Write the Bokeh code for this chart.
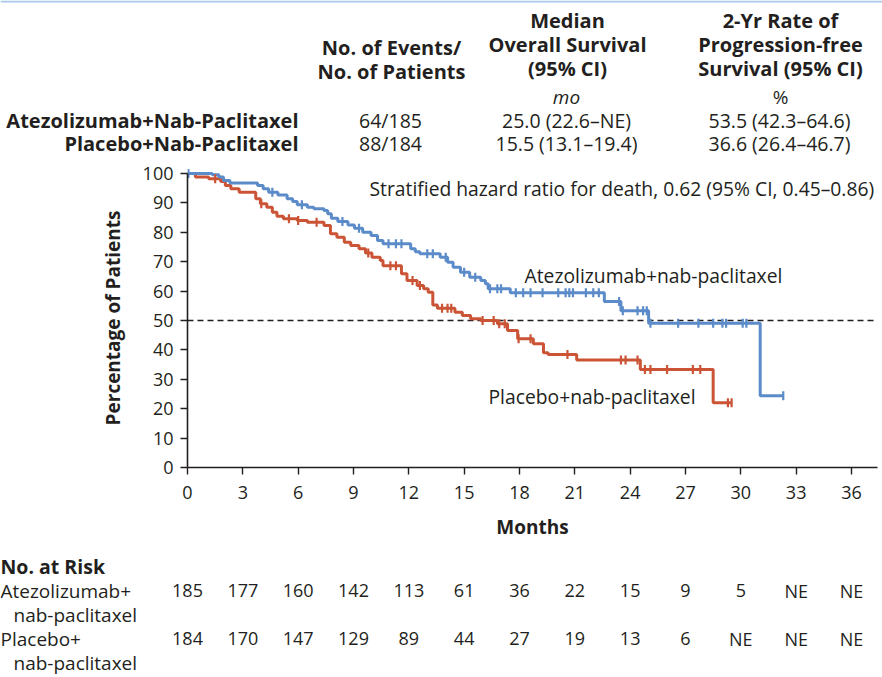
import numpy as np
from bokeh.plotting import figure
from bokeh.models import Range1d, FixedTicker
from bokeh.core.properties import value
from bokeh.embed import file_html
from bokeh.resources import INLINE

# ---------------- data ----------------
atezo_t = [0, 1.34, 1.7, 1.95, 2.3, 3.8, 4.1, 4.4, 4.9, 5.4, 5.7, 5.95, 6.5, 6.85, 7.4, 7.6,
           7.8, 8.15, 8.7, 9.05, 9.5, 9.95, 10.3, 10.6, 12.1, 12.35, 12.6, 13.7, 14.1, 14.4,
           14.8, 15.3, 15.9, 16.15, 16.3, 17.5, 22.6, 23.5, 25.0, 31.05, 32.3]
atezo_s = [100, 99.6, 98.8, 97.6, 96.8, 95.9, 94.8, 93.6, 92.7, 91.4, 90.5, 89.4, 88.5, 88.0,
           87.4, 86.3, 84.8, 83.7, 82.5, 81.4, 80.0, 78.9, 77.2, 76.1, 74.4, 73.4, 72.7, 71.5,
           69.8, 68.1, 66.4, 64.7, 63.6, 62.5, 60.8, 59.4, 56.5, 53.3, 49.1, 24.4, 24.4]
atezo_cens = [0.05, 4.6, 6.2, 8.4, 9.3, 10.9, 11.3, 11.6, 13.0, 13.3, 14.0, 15.0, 15.6, 16.4,
              16.8, 17.0, 17.8, 18.2, 18.6, 19.25, 20.1, 20.5, 20.7, 20.9, 21.6, 22.0, 22.3,
              23.4, 23.6, 24.4, 24.7, 24.9, 25.1, 26.6, 27.7, 28.5, 29.0, 29.2, 30.1, 30.3, 32.3]

placebo_t = [0, 0.43, 1.15, 1.8, 2.05, 2.35, 2.8, 3.7, 3.95, 4.3, 4.6, 4.85, 5.2, 5.95, 6.5,
             7.4, 7.75, 8.1, 8.5, 8.85, 9.3, 9.65, 10.0, 10.45, 10.6, 11.6, 11.9, 12.45, 12.8,
             13.05, 13.3, 13.55, 14.5, 14.9, 15.35, 15.9, 16.8, 17.35, 17.9, 18.75, 19.3,
             19.55, 21.1, 24.55, 28.5, 29.5]
placebo_s = [100, 98.8, 98.2, 97.3, 95.9, 94.8, 93.6, 91.4, 89.7, 88.5, 86.8, 85.5, 84.6, 84.0,
             83.4, 82.3, 79.5, 78.3, 76.6, 75.5, 74.4, 73.0, 71.5, 70.4, 68.6, 65.9, 63.6, 61.9,
             60.8, 59.6, 55.3, 54.2, 52.8, 51.7, 50.6, 50.0, 48.9, 46.6, 43.8, 42.1, 39.0, 38.4,
             36.6, 33.3, 22.0, 22.0]
placebo_cens = [1.5, 4.0, 5.5, 6.0, 7.0, 9.8, 11.0, 11.3, 12.2, 12.6, 13.8, 14.1, 14.3, 16.0,
                16.6, 16.9, 17.2, 17.95, 18.6, 20.6, 23.5, 23.75, 24.4, 24.8, 25.1, 26.0, 27.4,
                27.8, 29.3, 29.5]

x_ticks = list(range(0, 37, 3))
y_ticks = list(range(0, 101, 10))
risk_atezo = ["185", "177", "160", "142", "113", "61", "36", "22", "15", "9", "5", "NE", "NE"]
risk_placebo = ["184", "170", "147", "129", "89", "44", "27", "19", "13", "6", "NE", "NE", "NE"]

arm_names = ["Atezolizumab+Nab-Paclitaxel", "Placebo+Nab-Paclitaxel"]
events = ["64/185", "88/184"]
median_os = ["25.0 (22.6\u2013NE)", "15.5 (13.1\u201319.4)"]
pfs_2yr = ["53.5 (42.3\u201364.6)", "36.6 (26.4\u201346.7)"]
hazard_text = "Stratified hazard ratio for death, 0.62 (95% CI, 0.45\u20130.86)"
curve_labels = ["Atezolizumab+nab-paclitaxel", "Placebo+nab-paclitaxel"]
risk_rows = ["Atezolizumab+", "nab-paclitaxel", "Placebo+", "nab-paclitaxel"]

# ---------------- style / layout ----------------
BLUE = "#5b8bc9"
RED = "#cb5436"
INK = "#231f20"
FONT = "Open Sans"
W = 882
TOP_H, CHART_H = 160, 388
BOT_H = 677 - TOP_H - CHART_H
X0_PX = 187.0                 # page x of month 0
PX_PER_MONTH = (851.0 - X0_PX) / 36
FRAME_TOP, FRAME_H = 8, 299
Y_END = 101.7
PX_PER_UNIT = FRAME_H / Y_END
B_RIGHT = 5
x_end = (W - X0_PX - B_RIGHT) / PX_PER_MONTH


def px2m(px):
    return (px - X0_PX) / PX_PER_MONTH


def blank(fig):
    fig.xaxis.visible = False
    fig.yaxis.visible = False
    fig.xgrid.visible = False
    fig.ygrid.visible = False
    fig.outline_line_color = None


def txt(fig, xs, ys, texts, align="left", size="18px", style="normal"):
    fig.text(x=xs, y=ys, text=texts, text_align=align, text_baseline="middle",
             text_font=value(FONT), text_font_size=size, text_font_style=style, text_color=INK)


# ---------------- top table (page pixel coordinates) ----------------
top = figure(width=W, height=TOP_H, x_range=Range1d(0, W), y_range=Range1d(TOP_H, 0),
             output_backend="svg", toolbar_location=None, min_border=0)
blank(top)
top.line(x=[0, W], y=[1, 1], line_color="#a9c9ea", line_width=2)
HB = "20px"
txt(top, [391, 391], [47, 71], ["No. of Events/", "No. of Patients"], "center", HB, "bold")
txt(top, [567] * 3, [20, 44, 68], ["Median", "Overall Survival", "(95% CI)"], "center", HB, "bold")
txt(top, [780] * 3, [20, 44, 68], ["2-Yr Rate of", "Progression-free", "Survival (95% CI)"],
    "center", HB, "bold")
txt(top, [566], [96], ["mo"], "center", "19px", "italic")
txt(top, [780], [96], ["%"], "center", "19px")
txt(top, [298, 298], [120, 143], arm_names, "right", HB, "bold")
txt(top, [390, 390], [120, 143], events, "center", "19.5px")
txt(top, [566, 566], [120, 143], median_os, "center", "19.5px")
txt(top, [779, 779], [120, 143], pfs_2yr, "center", "19.5px")

# ---------------- chart ----------------
chart = figure(width=W, height=CHART_H, x_range=Range1d(0, x_end), y_range=Range1d(0, Y_END),
               output_backend="svg", toolbar_location=None,
               min_border_left=int(X0_PX), min_border_right=B_RIGHT,
               min_border_top=FRAME_TOP, min_border_bottom=CHART_H - FRAME_TOP - FRAME_H)
chart.xgrid.visible = False
chart.ygrid.visible = False
chart.outline_line_color = None


def cy(py):
    # page y (inside chart figure) -> percentage value
    return (TOP_H + FRAME_TOP + FRAME_H - py) / PX_PER_UNIT


chart.line(x=[0, px2m(873)], y=[50, 50], line_color=INK, line_width=1.3, line_dash="6 4")
chart.step(x=placebo_t, y=placebo_s, mode="after", line_color=RED, line_width=3)
chart.step(x=atezo_t, y=atezo_s, mode="after", line_color=BLUE, line_width=3)


def step_lookup(t, s, c):
    idx = np.searchsorted(np.asarray(t), np.asarray(c), side="right") - 1
    return np.asarray(s)[idx]


chart.scatter(x=placebo_cens, y=step_lookup(placebo_t, placebo_s, placebo_cens), marker="dash",
              angle=np.pi / 2, size=9, line_color=RED, line_width=2.2)
chart.scatter(x=atezo_cens, y=step_lookup(atezo_t, atezo_s, atezo_cens), marker="dash",
              angle=np.pi / 2, size=9, line_color=BLUE, line_width=2.2)

txt(chart, [px2m(369)], [cy(188)], [hazard_text], "left", "19.3px")
txt(chart, [px2m(524), px2m(488)], [cy(275), cy(396)], curve_labels, "left", "19.3px")

for ax in (chart.xaxis[0], chart.yaxis[0]):
    ax.axis_line_color = INK
    ax.axis_line_width = 1.6
    ax.major_tick_line_color = INK
    ax.major_tick_line_width = 1.4
    ax.major_tick_out = 7
    ax.major_tick_in = 0
    ax.minor_tick_line_color = None
    ax.major_label_text_font = FONT
    ax.major_label_text_font_size = "18px"
    ax.major_label_text_color = INK
    ax.axis_label_text_font = FONT
    ax.axis_label_text_font_style = "bold"
    ax.axis_label_text_font_size = "19px"
    ax.axis_label_text_color = INK

chart.xaxis.ticker = FixedTicker(ticks=x_ticks)
chart.yaxis.ticker = FixedTicker(ticks=y_ticks)
chart.yaxis.bounds = (0, 100)
chart.xaxis.axis_label = "Months"
chart.yaxis.axis_label = "Percentage of Patients"
chart.xaxis.major_label_standoff = 11
chart.xaxis.axis_label_standoff = 12
chart.yaxis.major_label_standoff = 7
chart.yaxis.axis_label_standoff = 14

# ---------------- at-risk table ----------------
bot_top = TOP_H + CHART_H
bot = figure(width=W, height=BOT_H, x_range=Range1d(px2m(0), px2m(W)),
             y_range=Range1d(bot_top + BOT_H, bot_top),
             output_backend="svg", toolbar_location=None, min_border=0)
blank(bot)
txt(bot, [px2m(0)], [566], ["No. at Risk"], "left", "19.5px", "bold")
txt(bot, [px2m(0), px2m(13), px2m(0), px2m(13)], [590, 614, 638, 662], risk_rows, "left", "19px")
txt(bot, x_ticks, [590] * len(x_ticks), risk_atezo, "center", "18px")
txt(bot, x_ticks, [638] * len(x_ticks), risk_placebo, "center", "18px")

open("out.html", "w").write(file_html([top, chart, bot], INLINE))
